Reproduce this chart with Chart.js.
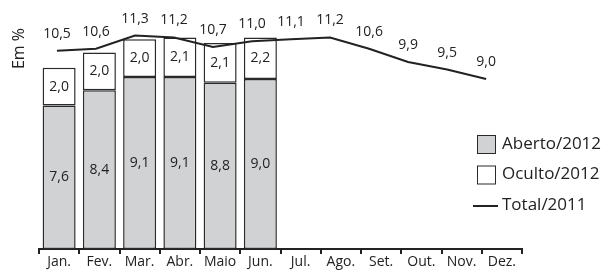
<!DOCTYPE html>
<html>
<head>
<meta charset="utf-8">
<script src="https://cdn.jsdelivr.net/npm/chart.js@4"></script>
<style>
  html, body { margin: 0; padding: 0; background: #fff; }
</style>
</head>
<body>
<canvas id="myChart" width="606" height="270"></canvas>
<script>
const meses = ['Jan.', 'Fev.', 'Mar.', 'Abr.', 'Maio', 'Jun.', 'Jul.', 'Ago.', 'Set.', 'Out.', 'Nov.', 'Dez.'];
const aberto2012 = [7.6, 8.4, 9.1, 9.1, 8.8, 9.0, null, null, null, null, null, null];
const oculto2012 = [2.0, 2.0, 2.0, 2.1, 2.1, 2.2, null, null, null, null, null, null];
const total2011 = [10.5, 10.6, 11.3, 11.2, 10.7, 11.0, 11.1, 11.2, 10.6, 9.9, 9.5, 9.0];
const unidade = 'Em %';

const fonte = 'Open Sans';
const corTexto = '#222';

const virgula = v => v.toFixed(1).replace('.', ',');

// rotulos dentro das barras e acima da linha
const rotulos = {
   id: 'rotulos',
   afterDatasetsDraw(chart) {
      const ctx = chart.ctx;
      ctx.save();
      ctx.font = '14px "' + fonte + '"';
      ctx.fillStyle = corTexto;
      ctx.textAlign = 'center';
      ctx.textBaseline = 'middle';
      chart.data.datasets.forEach((ds, i) => {
         const meta = chart.getDatasetMeta(i);
         meta.data.forEach((el, j) => {
            const raw = ds.type === 'line' ? ds.data[j].y : ds.data[j];
            if (raw == null) return;
            if (ds.type === 'line') {
               ctx.fillText(virgula(raw), el.x, el.y - 17);
            } else {
               const p = el.getProps(['x', 'y', 'base'], true);
               ctx.fillText(virgula(raw), p.x, (p.y + p.base) / 2);
            }
         });
      });
      ctx.restore();
   }
};

// legenda a direita, sobre a area do grafico, e o "Em %" vertical
const legendaLado = {
   id: 'legendaLado',
   afterDraw(chart, args, opts) {
      const ctx = chart.ctx;
      ctx.save();
      ctx.font = '17px "' + fonte + '"';
      ctx.textBaseline = 'middle';
      ctx.textAlign = 'left';
      chart.data.datasets.forEach((ds, i) => {
         const y = opts.y + i * opts.gap;
         if (ds.type === 'line') {
            ctx.strokeStyle = ds.borderColor;
            ctx.lineWidth = 2;
            ctx.beginPath();
            ctx.moveTo(opts.x - 4, y + 1);
            ctx.lineTo(opts.x + 21, y + 1);
            ctx.stroke();
         } else {
            ctx.fillStyle = ds.backgroundColor;
            ctx.fillRect(opts.x, y - 9, 18, 18);
            ctx.strokeStyle = ds.borderColor;
            ctx.lineWidth = 1;
            ctx.strokeRect(opts.x + 0.5, y - 8.5, 18, 18);
         }
         ctx.fillStyle = corTexto;
         ctx.fillText(ds.label, opts.x + 25, y);
      });

      // titulo do eixo y, no alto
      ctx.translate(opts.tituloX, chart.chartArea.top);
      ctx.rotate(-Math.PI / 2);
      ctx.font = '16px "' + fonte + '"';
      ctx.textAlign = 'right';
      ctx.fillText(unidade, 0, 0);
      ctx.restore();
   }
};

let ctx = document.getElementById('myChart');
let myChart = new Chart(ctx, {
   data: {
      labels: meses,
      datasets: [
         {
            type: 'bar',
            label: 'Aberto/2012',
            data: aberto2012,
            backgroundColor: '#d1d2d4',
            borderColor: '#2a2a2a',
            borderWidth: 1.5,
            borderSkipped: false,
            grouped: false,
            categoryPercentage: 1,
            barPercentage: 0.82,
            order: 2
         },
         {
            type: 'bar',
            label: 'Oculto/2012',
            data: oculto2012,
            backgroundColor: '#ffffff',
            borderColor: '#2a2a2a',
            borderWidth: 1.5,
            borderSkipped: false,
            grouped: false,
            categoryPercentage: 1,
            barPercentage: 0.82,
            order: 2
         },
         {
            type: 'line',
            label: 'Total/2011',
            data: total2011.map((v, i) => ({ x: i, y: v })),
            xAxisID: 'xl',
            borderColor: '#222',
            borderWidth: 2,
            pointRadius: 0,
            tension: 0,
            fill: false,
            order: 1
         }
      ]
   },
   options: {
      responsive: false,
      animation: false,
      layout: { padding: { left: 39, right: 84, top: 28, bottom: 0 } },
      scales: {
         x: {
            type: 'category',
            stacked: true,
            offset: true,
            grid: {
               display: true,
               drawOnChartArea: false,
               offset: true,
               drawTicks: true,
               tickLength: 5,
               color: '#222',
               lineWidth: 2
            },
            border: { display: true, color: '#222', width: 2 },
            ticks: {
               font: { family: fonte, size: 14, lineHeight: 1 },
               color: corTexto,
               padding: 1,
               maxRotation: 0,
               autoSkip: false
            }
         },
         xl: {
            type: 'linear',
            display: false,
            min: -0.46,
            max: 11.92
         },
         y: {
            display: false,
            stacked: true,
            min: 0,
            max: 11.7
         }
      },
      plugins: {
         legend: { display: false },
         tooltip: { enabled: false },
         legendaLado: { x: 477, y: 144, gap: 30.5, tituloX: 19 }
      }
   },
   plugins: [rotulos, legendaLado]
});
</script>
</body>
</html>
